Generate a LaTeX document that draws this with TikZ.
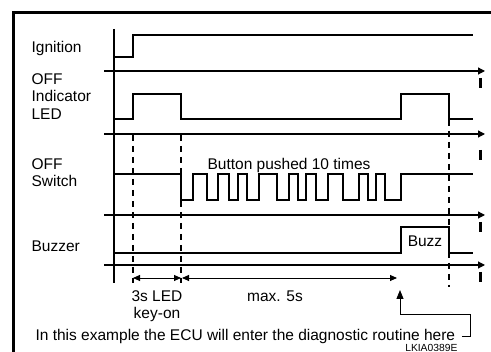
\documentclass[tikz,border=0pt]{standalone}
\usepackage{fontspec}
\setmainfont{Liberation Sans}
\usetikzlibrary{arrows.meta,calc}

\begin{document}
\begin{tikzpicture}[x=1pt, y=-1pt, line width=1.2pt,
    font=\fontsize{15.5}{17.5}\selectfont,
    every node/.style={inner sep=0pt, align=left},
    axis/.style={-{Triangle[length=7pt,width=7pt]}},
    tickmark/.style={line width=2.4pt},
    marker/.style={dash pattern=on 6pt off 5pt},
    dim/.style={{Triangle[length=7pt,width=6pt]}-{Triangle[length=7pt,width=6pt]}, line width=0.9pt}]
  \useasboundingbox (0,0) rectangle (491,352);
  \draw[line width=3pt] (491,12.5) -- (13.5,12.5) -- (13.5,352);
  % signal names
  \node[anchor=north west] (ign) at (31,40.7) {Ignition};
  \node[anchor=north west] (led) at (31,72.7) {OFF\\Indicator\\LED};
  \node[anchor=north west] (sw) at (31,158) {OFF\\Switch};
  \node[anchor=north west] (buzzer) at (31,240) {Buzzer};
  \node[anchor=north west] (pushed) at (207,158) {Button pushed 10 times};
  \node[anchor=north] (buzz) at (425,235) {Buzz};
  % waveforms
  \draw (114,29) -- (114,283);
  \draw (114,57) -| (133,35) -- (473,35);
  \draw[axis] (104,71) -- (485,71);
  \draw[tickmark] (480.5,78) -- (480.5,88);
  \draw (114,119) -| (133,94) -| (181,119) -| (401,94) -| (449,119) -- (473,119);
  \draw[axis] (104,134) -- (485,134);
  \draw[tickmark] (480.5,150) -- (480.5,160);
  \draw (114,174) foreach \a/\b in {181/193,207/218,229/238,247/259,277/289,298/306,316/328,343/359,368/376,385/401}
    { -- (\a,174) -- (\a,200) -- (\b,200) -- (\b,174) } -- (473,174);
  \draw[axis] (104,215) -- (485,215);
  \draw[tickmark] (480.5,222) -- (480.5,232);
  \draw (114,253) -| (401,227) -| (449,253) -- (473,253);
  \draw[axis] (104,265) -- (485,265);
  \draw[tickmark] (480.5,272) -- (480.5,282);
  \draw[marker] (133,135) -- (133,283);
  \draw[marker] (181,135) -- (181,283);
  \draw[marker] (449,120) -- (449,287);
  % timing
  \draw[dim] (133,278) -- (181,278);
  \draw[dim] (182,278) -- (397,278);
  \node[anchor=north, align=center] (keyon) at (157,290) {3s LED\\key-on};
  \node[anchor=north] (max) at (275,290) {max. 5s};
  \node[anchor=north west] (note) at (35,328.5) {In this example the ECU will enter the diagnostic routine here};
  \coordinate (entry) at (400,290);
  \draw[-{Triangle[length=9pt,width=7pt]}, line width=0.9pt] ([xshift=6pt]note.east) -- ++(9,0) |- ($(entry)+(0,24)$) -- (entry);
  \node[anchor=south east, font=\fontsize{10.3}{12}\selectfont] (code) at (458,352) {LKIA0389E};
\end{tikzpicture}
\end{document}
